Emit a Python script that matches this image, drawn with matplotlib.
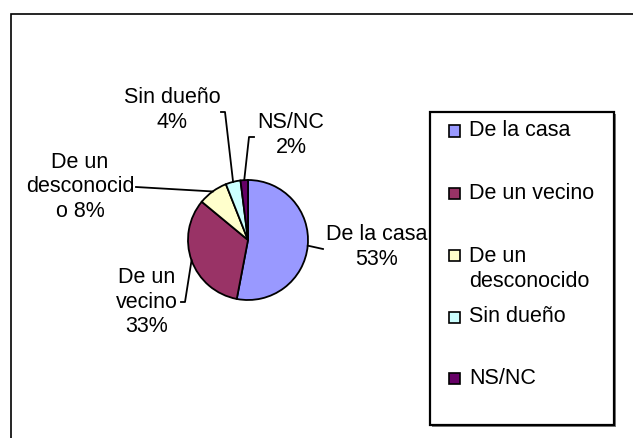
import matplotlib
matplotlib.use("Agg")
import matplotlib.pyplot as plt
from matplotlib.patches import Rectangle
import numpy as np

# data
categories = ["De la casa", "De un vecino", "De un desconocido", "Sin dueño", "NS/NC"]
values = [53, 33, 8, 4, 2]
colors = ["#9999FF", "#993366", "#FFFFCC", "#CCFFFF", "#660066"]
pie_labels = ["De la casa\n53%", "De un\nvecino\n33%", "De un\ndesconocid\no 8%",
              "Sin dueño\n4%", "NS/NC\n2%"]
legend_labels = ["De la casa", "De un vecino", "De un\ndesconocido", "Sin dueño", "NS/NC"]

plt.rcParams['font.family'] = ['Liberation Sans', 'DejaVu Sans']
FS = 15.5

W, H = 633, 438
fig = plt.figure(figsize=(W / 100, H / 100), dpi=100)

def fx(x):
    return x / W

def fy(y):
    return 1 - y / H

# outer chart frame (cropped on right/bottom)
fig.patches.append(Rectangle((fx(11), fy(700)), 1.0, fy(14) - fy(700),
                             transform=fig.transFigure, fill=False,
                             edgecolor='black', lw=1.2, clip_on=False))

# pie axes: center and radius in pixels
CX, CY, R = 248, 240, 60
ax = fig.add_axes([fx(CX - R), fy(CY + R), 2 * R / W, 2 * R / H])
wedges, _ = ax.pie(values, colors=colors, startangle=90, counterclock=False,
                   radius=1, wedgeprops=dict(edgecolor='black', linewidth=1.3))
ax.set_xlim(-1, 1)
ax.set_ylim(-1, 1)
ax.axis('off')

def p2d(x, y):
    return (x - CX) / R, (CY - y) / R

# label text centers and leader elbow/end points (pixels)
label_pos = [(377, 247), (147, 302), (80, 187), (172, 110), (291, 135)]
leader_pts = [
    [(323, 249)],
    [(185, 302), (181, 302)],
    [(136, 187)],
    [(225, 112), (221, 112)],
    [(249, 137), (254, 137)],
]

for w, lab, (tx, ty), pts in zip(wedges, pie_labels, label_pos, leader_pts):
    ang = np.deg2rad((w.theta1 + w.theta2) / 2)
    xs = [np.cos(ang)]
    ys = [np.sin(ang)]
    for (px, py) in pts:
        dx, dy = p2d(px, py)
        xs.append(dx)
        ys.append(dy)
    ax.plot(xs, ys, color='black', lw=1.3, clip_on=False)
    fig.text(fx(tx), fy(ty), lab, ha='center', va='center', fontsize=FS,
             multialignment='center', linespacing=1.2)

# legend box
lx0, ly0, lx1, ly1 = 430, 112, 614, 425
fig.patches.append(Rectangle((fx(lx0 + 2), fy(ly1 + 2)), fx(lx1) - fx(lx0), fy(ly0) - fy(ly1),
                             transform=fig.transFigure, facecolor='#808080',
                             edgecolor='none', zorder=1))
fig.patches.append(Rectangle((fx(lx0), fy(ly1)), fx(lx1) - fx(lx0), fy(ly0) - fy(ly1),
                             transform=fig.transFigure, facecolor='white',
                             edgecolor='black', lw=1.6, zorder=2))

entry_y = [131, 193, 255, 317, 378]
msz = 11
for lab, col, ey in zip(legend_labels, colors, entry_y):
    fig.patches.append(Rectangle((fx(449), fy(ey + msz / 2)), msz / W, msz / H,
                                 transform=fig.transFigure, facecolor=col,
                                 edgecolor='black', lw=1.2, zorder=3))
    nlines = lab.count("\n") + 1
    ty = ey + (nlines - 1) * 14
    fig.text(fx(469), fy(ty), lab, ha='left', va='center', fontsize=FS,
             linespacing=1.2, zorder=4)

fig.savefig("out.png", dpi=100)
